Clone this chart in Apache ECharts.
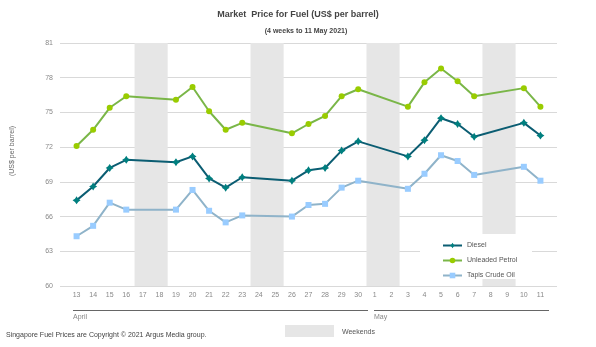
<!DOCTYPE html>
<html>
<head>
<meta charset="utf-8">
<script src="https://cdn.jsdelivr.net/npm/echarts@6/dist/echarts.min.js"></script>
<style>html,body{margin:0;padding:0;background:#fff}#c{width:596px;height:347px}</style>
</head>
<body>
<div id="c"></div>
<script>
// Days shown on the axis (13 Apr .. 11 May 2021)
var days = ['13','14','15','16','17','18','19','20','21','22','23','24','25','26','27','28','29','30','1','2','3','4','5','6','7','8','9','10','11'];
// Weekend pairs (index of first and second day)
var weekends = [[4,5],[11,12],[18,19],[25,26]];
// Prices (null = weekend, no quote)
var diesel = [67.4,68.6,70.2,70.9,null,null,70.7,71.2,69.3,68.5,69.4,null,null,69.1,70.0,70.2,71.7,72.5,null,null,71.2,72.6,74.5,74.0,72.9,null,null,74.1,73.0];
var petrol = [72.1,73.5,75.4,76.4,null,null,76.1,77.2,75.1,73.5,74.1,null,null,73.2,74.0,74.7,76.4,77.0,null,null,75.5,77.6,78.8,77.7,76.4,null,null,77.1,75.5];
var tapis  = [64.3,65.2,67.2,66.6,null,null,66.6,68.3,66.5,65.5,66.1,null,null,66.0,67.0,67.1,68.5,69.1,null,null,68.4,69.7,71.3,70.8,69.6,null,null,70.3,69.1];
var seriesNames = ['Diesel','Unleaded Petrol','Tapis Crude Oil'];
var yTicks = {min:60, max:81, interval:3};

function pairs(arr){ var out=[]; for(var i=0;i<arr.length;i++){ if(arr[i]!==null) out.push([i,arr[i]]);} return out; }

var font = 'Liberation Sans, Arial, sans-serif';
var chart = echarts.init(document.getElementById('c'), null, {renderer:'canvas'});
var bands = weekends.map(function(w){ return [{xAxis:w[0]-0.5},{xAxis:w[1]+0.5}]; });
var dieselSym = 'path://M4,0 L5.6,2.4 L8,4 L5.6,5.6 L4,8 L2.4,5.6 L0,4 L2.4,2.4 Z';

chart.setOption({
  animation:false,
  textStyle:{fontFamily:font},
  title:[
    {text:'Market  Price for Fuel (US$ per barrel)', left:'center', top:5,
     textStyle:{fontSize:9, fontWeight:'bold', color:'#444', fontFamily:font}},
    {text:'(4 weeks to 11 May 2021)', left:301, textAlign:'center', top:23,
     textStyle:{fontSize:7, fontWeight:'bold', color:'#444', fontFamily:font}}
  ],
  grid:{left:60, right:39, top:43, bottom:61},
  xAxis:{type:'value', min:-1, max:29, interval:1,
    axisLine:{show:false}, axisTick:{show:false}, splitLine:{show:false},
    axisLabel:{fontSize:7, color:'#888', margin:6, fontFamily:font,
      formatter:function(v){ return (v>=0 && v<days.length) ? days[v] : ''; }}},
  yAxis:{type:'value', min:yTicks.min, max:yTicks.max, interval:yTicks.interval,
    axisLine:{show:false}, axisTick:{show:false},
    splitLine:{lineStyle:{color:'#d9d9d9', width:1}},
    axisLabel:{fontSize:7, color:'#888', margin:7, fontFamily:font}},
  legend:{orient:'vertical', left:437, top:237, itemWidth:19, itemHeight:7, itemGap:8, z:10,
    data:seriesNames,
    textStyle:{fontSize:7, color:'#555', fontFamily:font}},
  graphic:[
    {type:'rect', z:5, shape:{x:420, y:234, width:112, height:45}, style:{fill:'#fff'}},
    {type:'text', rotation:Math.PI/2, x:12, y:151, style:{text:'(US$ per barrel)', fill:'#666', font:'7px '+font, textAlign:'center', textVerticalAlign:'middle'}},
    {type:'line', shape:{x1:73, y1:310.5, x2:368, y2:310.5}, style:{stroke:'#666', lineWidth:1}},
    {type:'line', shape:{x1:374, y1:310.5, x2:549, y2:310.5}, style:{stroke:'#666', lineWidth:1}},
    {type:'text', x:73, y:314, style:{text:'April', fill:'#888', font:'7px '+font}},
    {type:'text', x:374, y:314, style:{text:'May', fill:'#888', font:'7px '+font}},
    {type:'rect', shape:{x:285, y:325, width:49, height:12}, style:{fill:'#e6e6e6'}},
    {type:'text', x:342, y:328.5, style:{text:'Weekends', fill:'#555', font:'7px '+font}},
    {type:'text', x:6, y:332, style:{text:'Singapore Fuel Prices are Copyright \u00a9 2021 Argus Media group.', fill:'#444', font:'7px '+font}}
  ],
  series:[
    {name:seriesNames[0], type:'line', data:pairs(diesel), connectNulls:true,
     symbol:dieselSym, symbolSize:8, z:4,
     lineStyle:{color:'#0b5d72', width:2}, itemStyle:{color:'#007f7f'},
     markArea:{silent:true, itemStyle:{color:'#e6e6e6'}, data:bands}},
    {name:seriesNames[1], type:'line', data:pairs(petrol), symbol:'circle', symbolSize:6, z:3,
     lineStyle:{color:'#7ab648', width:2}, itemStyle:{color:'#99cc00'}},
    {name:seriesNames[2], type:'line', data:pairs(tapis), symbol:'rect', symbolSize:6, z:3,
     lineStyle:{color:'#8fb3c9', width:2}, itemStyle:{color:'#99ccff'}}
  ]
});
</script>
</body>
</html>
